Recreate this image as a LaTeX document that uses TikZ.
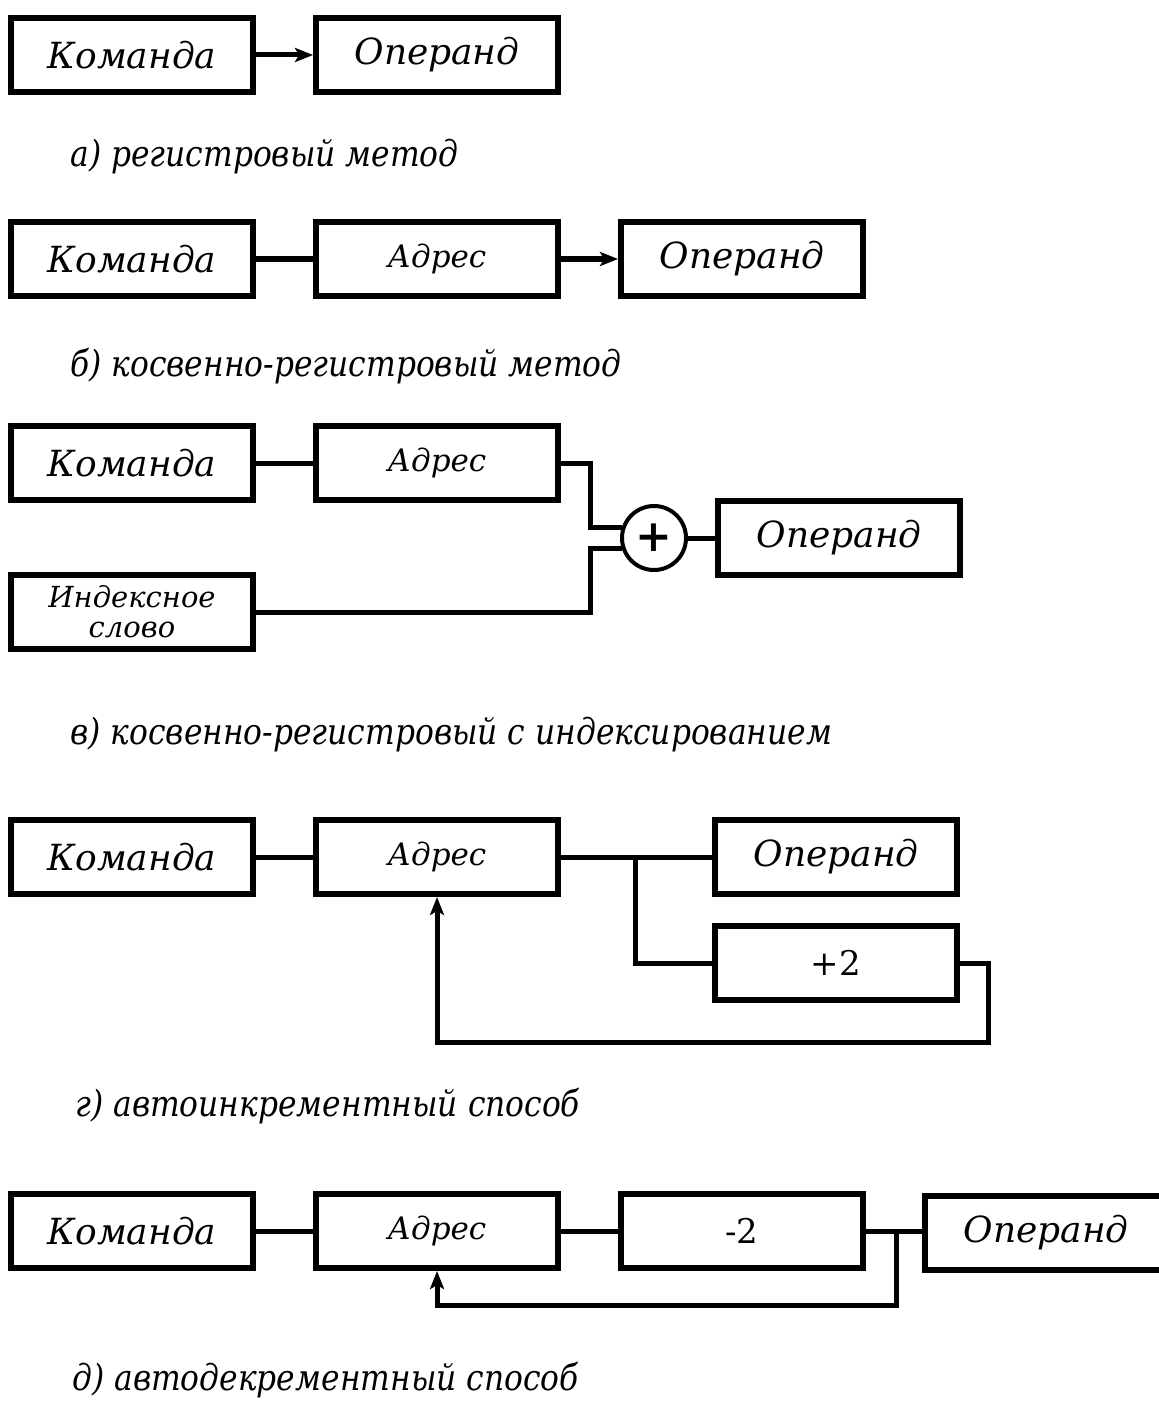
\documentclass[tikz,border=0pt]{standalone}
\usepackage{fontspec}
\setmainfont{DejaVu Serif}
\newfontfamily\capfont{DejaVu Serif}[FakeStretch=0.87]
\usetikzlibrary{arrows.meta, positioning}

\begin{document}
\begin{tikzpicture}[
    x=0.5pt, y=-0.5pt,
    node distance=28.5pt,
    box/.style={rectangle, draw=black, line width=3pt, minimum width=121pt, minimum height=37pt, inner sep=0pt, font=\fontsize{18}{21}\selectfont\itshape},
    addrbox/.style={box, font=\fontsize{15.5}{18}\selectfont\itshape},
    idxbox/.style={box, align=center, font=\fontsize{14.5}{15}\selectfont\itshape},
    numbox/.style={box, font=\fontsize{17}{20}\selectfont},
    sum/.style={circle, draw=black, line width=2pt, minimum size=32pt, inner sep=0pt, font=\fontsize{22}{22}\selectfont\bfseries},
    caption/.style={anchor=base west, inner sep=0pt, font=\capfont\fontsize{18}{21}\selectfont\itshape},
    link/.style={line width=2.5pt},
    arrow/.style={link, -{Stealth[length=9pt, width=7pt, inset=2pt]}}
]
    \useasboundingbox (0,0) rectangle (1158,1423);

    % а) registers
    \node[box] (kom1) at (132,55) {Команда};
    \node[box, right=of kom1] (op1) {Операнд};
    \draw[arrow] (kom1) -- (op1);
    \node[caption] (cap1) at (70,167) {а) регистровый метод};

    % б)
    \node[box] (kom2) at (132,259) {Команда};
    \node[addrbox, right=of kom2] (adr2) {Адрес};
    \node[box, right=of adr2] (op2) {Операнд};
    \draw[link] (kom2) -- (adr2);
    \draw[arrow] (adr2) -- (op2);
    \node[caption] (cap2) at (70,376) {б) косвенно-регистровый метод};

    % в)
    \node[box] (kom3) at (132,463) {Команда};
    \node[addrbox, right=of kom3] (adr3) {Адрес};
    \node[idxbox] (idx) at (132,612) {Индексное\\слово};
    \node[sum] (sum) at (654,538) {+};
    \node[box, right=13.5pt of sum] (op3) {Операнд};
    \coordinate (fork3) at (590,538);
    \draw[link] (kom3) -- (adr3);
    \draw[link] (adr3.east) -| (fork3 |- sum.162) -- (sum.162);
    \draw[link] (idx.east) -| (fork3 |- sum.198) -- (sum.198);
    \draw[link] (sum) -- (op3);
    \node[caption] (cap3) at (70,744) {в) косвенно-регистровый с индексированием};

    % г)
    \node[box] (kom4) at (132,857) {Команда};
    \node[addrbox, right=of kom4] (adr4) {Адрес};
    \node[box] (op4) at (836,857) {Операнд};
    \node[numbox, below=13pt of op4] (inc) {+2};
    \coordinate[right=37pt of adr4.east] (fork4);
    \coordinate[below=72.5pt of adr4.south] (back4);
    \draw[link] (kom4) -- (adr4);
    \draw[link] (adr4) -- (op4);
    \draw[link] (fork4) |- (inc.west);
    \draw[arrow] (inc.east) -- ++(28,0) |- (back4) -- (adr4.south);
    \node[caption] (cap4) at (75,1116) {г) автоинкрементный способ};

    % д)
    \node[box] (kom5) at (132,1231) {Команда};
    \node[addrbox, right=of kom5] (adr5) {Адрес};
    \node[numbox, right=of adr5] (dec) {-2};
    \node[box] (op5) at (1046,1233) {Операнд};
    \coordinate[right=15pt of dec.east] (fork5);
    \coordinate[below=17pt of adr5.south] (back5);
    \draw[link] (kom5) -- (adr5);
    \draw[link] (adr5) -- (dec);
    \draw[link] (dec) -- (fork5) -- (fork5 -| op5.west);
    \draw[arrow] (fork5) |- (back5) -- (adr5.south);
    \node[caption] (cap5) at (72,1390) {д) автодекрементный способ};

\end{tikzpicture}
\end{document}
